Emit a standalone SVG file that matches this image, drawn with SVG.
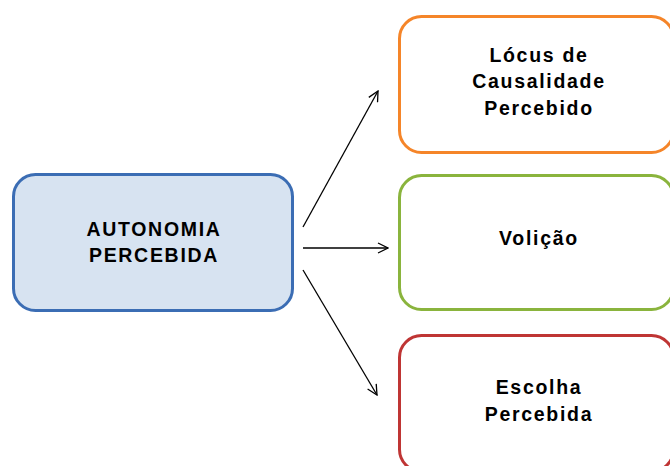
<svg xmlns="http://www.w3.org/2000/svg" width="670" height="466" viewBox="0 0 670 466">
<defs>
<style>
.box{stroke-width:3}
.t{font-family:"Liberation Sans",Arial,sans-serif;font-weight:bold;font-size:19.5px;fill:#000;text-anchor:middle;letter-spacing:1.7px}
.c{stroke:#000;stroke-width:1.3;fill:none}
</style>
<marker id="ah" viewBox="0 0 12 12" refX="11" refY="6" markerWidth="12" markerHeight="12" markerUnits="userSpaceOnUse" orient="auto">
<path d="M1,1 L11,6 L1,11" fill="none" stroke="#000" stroke-width="1.3"/>
</marker>
</defs>
<rect width="670" height="466" fill="#fff"/>
<g id="connectors">
<line class="c" x1="303" y1="227" x2="378" y2="91" marker-end="url(#ah)"/>
<line class="c" x1="303" y1="248" x2="388" y2="248" marker-end="url(#ah)"/>
<line class="c" x1="303" y1="270" x2="377" y2="395" marker-end="url(#ah)"/>
</g>
<g id="autonomia">
<rect class="box" x="13.5" y="174.5" width="279" height="136" rx="22" fill="#d7e3f1" stroke="#3b6db4"/>
<text class="t" x="154" y="236">AUTONOMIA</text>
<text class="t" x="154" y="262">PERCEBIDA</text>
</g>
<g id="locus">
<rect class="box" x="399.5" y="16.5" width="274" height="136" rx="22" fill="#fff" stroke="#f58529"/>
<text class="t" x="539" y="62">Lócus de</text>
<text class="t" x="539" y="88">Causalidade</text>
<text class="t" x="539" y="115">Percebido</text>
</g>
<g id="volicao">
<rect class="box" x="399.5" y="175.5" width="274" height="134" rx="22" fill="#fff" stroke="#8ab43d"/>
<text class="t" x="539" y="245">Volição</text>
</g>
<g id="escolha">
<rect class="box" x="399.5" y="335.5" width="274" height="136" rx="22" fill="#fff" stroke="#bf3534"/>
<text class="t" x="539" y="394">Escolha</text>
<text class="t" x="539" y="421">Percebida</text>
</g>
</svg>
